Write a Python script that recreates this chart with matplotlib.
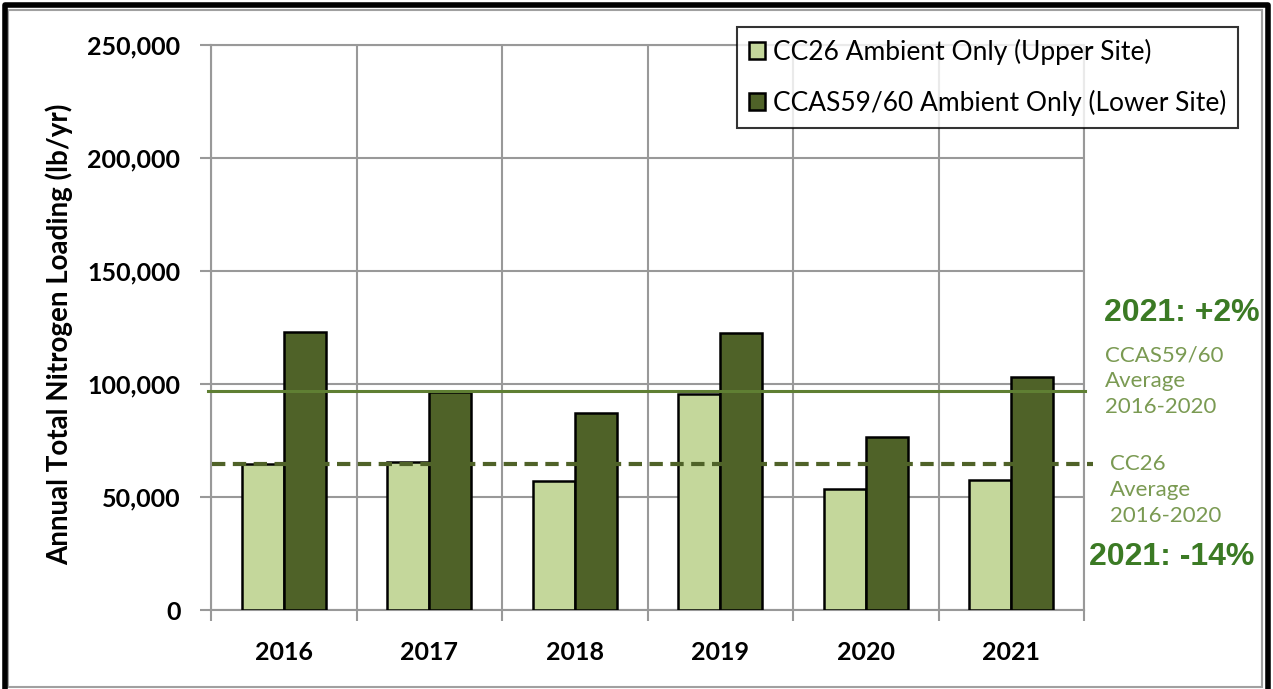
import matplotlib.pyplot as plt
import matplotlib.patches as mpatches
from matplotlib.lines import Line2D
import numpy as np

years = ['2016', '2017', '2018', '2019', '2020', '2021']
cc26 = [64500, 65500, 57000, 95500, 53500, 57500]
ccas = [123000, 96500, 87000, 122500, 76500, 103000]
cc26_avg = 64500
ccas_avg = 97000
yticks = [0, 50000, 100000, 150000, 200000, 250000]

light = '#c4d79b'
dark = '#4f6228'
grid_col = '#999999'
note_col = '#7a9a52'
big_col = '#3b7a24'

plt.rcParams['font.family'] = ['Lato', 'DejaVu Sans']

fig = plt.figure(figsize=(12.73, 6.89), dpi=100)
ax = fig.add_axes([211 / 1273, 1 - 610 / 689, (1084 - 211) / 1273, (610 - 45) / 689])

x = np.arange(len(years))
w = 0.29
ax.bar(x - w / 2, cc26, w, color=light, edgecolor='black', linewidth=1.8, zorder=3,
       label='CC26 Ambient Only (Upper Site)')
ax.bar(x + w / 2, ccas, w, color=dark, edgecolor='black', linewidth=1.8, zorder=3,
       label='CCAS59/60 Ambient Only (Lower Site)')

# average lines
ax.plot([-0.52, 5.51], [ccas_avg, ccas_avg], color='#5f7f33', lw=2.2, zorder=4, clip_on=False)
ax.plot([-0.49, 5.56], [cc26_avg, cc26_avg], color=dark, lw=3, ls=(0, (3.2, 1.8)), zorder=4, clip_on=False)

ax.set_xlim(-0.5, 5.5)
ax.set_ylim(0, 250000)
ax.set_yticks(yticks)
ax.set_yticklabels([f'{v:,}' for v in yticks])
ax.set_xticks(np.arange(-0.5, 6, 1))
ax.set_xticklabels([])
ax.set_xticks(x, minor=True)
ax.set_xticklabels(years, minor=True)
ax.tick_params(axis='x', which='major', length=8, width=1.5, color=grid_col)
ax.tick_params(axis='x', which='minor', length=0, pad=22, labelsize=18)
ax.tick_params(axis='y', length=8, width=1.5, color=grid_col, labelsize=18, pad=14)
for lab in ax.get_xticklabels(minor=True) + ax.get_yticklabels():
    lab.set_fontweight('bold')
ax.grid(True, which='major', color=grid_col, lw=1.5, zorder=0)
for s in ax.spines.values():
    s.set_color(grid_col)
    s.set_linewidth(1.5)

ax.set_ylabel('Annual Total Nitrogen Loading (lb/yr)', fontsize=20, fontweight='bold')
ax.yaxis.set_label_coords(-0.158, 0.488)

leg = fig.legend(loc='upper left', bbox_to_anchor=(737 / 1273, 1 - 27 / 689), fontsize=19,
                 frameon=True, fancybox=False, edgecolor='black', borderpad=0.45,
                 labelspacing=0.95, handlelength=0.6, handleheight=0.6, handletextpad=0.3,
                 borderaxespad=0)
leg.get_frame().set_linewidth(1.5)

# annotations on the right
fig.text(1182 / 1273, 1 - 313 / 689, '2021: +2%', color=big_col, fontsize=23, fontweight='bold',
         family='Liberation Sans', ha='center', va='center')
fig.text(1105 / 1273, 1 - 381 / 689, 'CCAS59/60\nAverage\n2016-2020', color=note_col, fontsize=16,
         ha='left', va='center', linespacing=1.35)
fig.text(1110 / 1273, 1 - 490 / 689, 'CC26\nAverage\n2016-2020', color=note_col, fontsize=16,
         ha='left', va='center', linespacing=1.35)
fig.text(1172 / 1273, 1 - 557 / 689, '2021: -14%', color=big_col, fontsize=23, fontweight='bold',
         family='Liberation Sans', ha='center', va='center')

# outer frame
fig.patches.append(mpatches.Rectangle((8 / 1273, 2 / 689), 1254 / 1273, 677 / 689, transform=fig.transFigure,
                                      fill=False, edgecolor='#a0a0a0', lw=1.5))
fig.add_artist(Line2D([5 / 1273, 5 / 1273, 1268 / 1273, 1268 / 1273], [0, 1 - 5 / 689, 1 - 5 / 689, 0],
                      transform=fig.transFigure, color='black', lw=4))

fig.savefig('out.png', dpi=100)
